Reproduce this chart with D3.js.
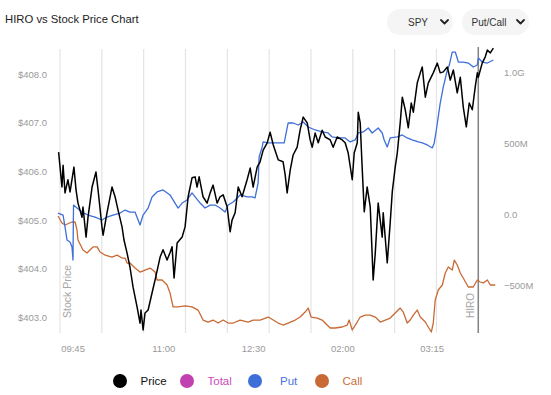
<!DOCTYPE html>
<html>
<head>
<meta charset="utf-8">
<script src="https://cdn.jsdelivr.net/npm/d3@7"></script>
<style>
  html, body { margin: 0; padding: 0; background: #fff; }
  svg { display: block; font-family: "Liberation Sans", Arial, Helvetica, sans-serif; }
</style>
</head>
<body>
<svg id="chart" width="551" height="395"></svg>
<script>
// ---------- DATA (t = minutes after 09:30 on the chart's x axis) ----------
const priceData = [
  [-1,406.40],[1.4,405.68],[2.2,406.13],[3.6,405.56],[5.7,405.83],[7.2,405.58],[10,406.09],[11.5,405.62],
  [12.9,405.35],[15.8,405.06],[16.5,405.27],[18.7,404.65],[20.1,405.06],[23,405.68],[25.8,405.99],[27.3,405.62],
  [30.1,404.86],[30.9,404.69],[33.7,405.15],[37.3,405.68],[39.5,405.48],[41.6,405.21],[44.5,404.86],[45.9,404.59],
  [48.1,404.32],[50.2,404.03],[52.4,403.62],[55.3,403.21],[57.4,402.88],[58.1,403.15],[59.6,402.74],[61,403.09],
  [63.2,403.15],[66,403.50],[68.2,403.77],[71.8,404.24],[73.9,404.39],[76.8,404.18],[78.9,404.33],[80.4,404.45],
  [81.8,403.81],[84,404.53],[87.6,404.65],[89.7,404.86],[91.9,405.48],[94.7,405.87],[96.9,405.89],[98.3,405.68],
  [99.8,405.89],[102.6,405.48],[105.5,405.35],[107.7,405.56],[109.8,405.72],[112.7,405.35],[114.8,405.48],[117,405.52],
  [119.9,405.27],[122,404.76],[123.4,405.00],[125.6,405.15],[127.8,405.68],[130.6,405.48],[134.2,405.83],[136.4,406.07],
  [138.5,405.68],[141.4,406.09],[143.5,406.20],[145.7,406.44],[148.6,406.59],[150.7,406.81],[152.9,406.55],[156.5,406.24],
  [160,406.20],[161.5,405.93],[162.9,405.56],[165.1,406.03],[167.2,406.34],[170.1,406.50],[172.2,406.85],[174.4,407.12],
  [177.3,407.00],[179.4,406.65],[180.9,406.50],[183,406.79],[185.2,406.59],[188,406.85],[190.2,406.71],[193.8,406.65],
  [195.9,406.50],[198.8,406.71],[202.4,406.65],[204.5,406.59],[206.7,406.38],[209.6,405.83],[211,406.38],[213.2,406.59],
  [213.9,407.22],[215.3,407.00],[216.7,406.09],[218.2,405.17],[220.3,405.68],[222.5,405.27],[224.6,403.77],[226.1,404.32],
  [228.2,405.35],[231.1,404.65],[231.8,405.15],[234.7,404.12],[236.8,404.94],[238.3,405.58],[240.4,406.09],[241.9,406.38],
  [244,407.00],[245.5,407.53],[247.6,407.27],[249.8,406.90],[251.9,407.41],[253.4,407.22],[256.2,407.82],[258.4,408.03],
  [259.8,408.15],[262,407.53],[264.1,407.82],[267.7,408.03],[270.6,408.23],[272.7,408.03],[274.9,408.05],[277.8,408.15],
  [279.9,407.88],[282.1,408.09],[284.9,407.62],[287.1,407.94],[289.2,407.33],[291.4,406.92],[293.5,407.41],[295.7,407.27],
  [297.8,407.74],[299.3,408.03],[300,407.94],[302.8,408.23],[305,408.36],[306.5,408.50],[308.6,408.44],[310.8,408.54]
];
// HIRO values in millions
const putData = [
  [-1.4,10],[2.2,-4],[3.6,-88],[5,-179],[7.2,-193],[8.6,-228],[9.3,-320],[9.7,66],[12.2,45],[15.8,17],
  [20.1,-4],[25.1,-18],[30.1,-39],[33.7,-18],[38,-4],[43.1,10],[46.7,31],[50.2,17],[53.8,17],[57.4,-74],
  [59.6,-4],[63.2,45],[66,123],[69.6,158],[73.9,172],[78.9,137],[82.5,80],[84.7,45],[87.6,80],[91.1,102],
  [94.7,151],[96.9,123],[100.5,80],[104,45],[107.7,66],[111.2,66],[114.8,45],[118.4,17],[120.6,66],[124.2,88],
  [127.8,123],[129.2,137],[134.2,123],[137.8,123],[139.9,116],[142.1,221],[142.8,403],[145,474],[145.7,509],[149.3,502],
  [152.9,502],[157.9,502],[160.8,502],[162.2,572],[163.6,642],[167.2,642],[170.8,628],[174.4,649],[178,614],[183,593],
  [188,579],[192.3,572],[195.2,544],[199.5,537],[204.5,537],[208.1,509],[211.7,523],[213.9,572],[217.5,579],[221.1,607],
  [223.9,572],[228.2,607],[231.1,572],[232.5,523],[234.7,474],[236.8,537],[241.9,544],[245.5,558],[249,537],[252.6,523],
  [256.9,509],[259.8,502],[263.4,488],[267,467],[268.4,502],[269.9,593],[272.7,782],[274.9,895],[277.8,1014],[279.2,1049],
  [281.3,1140],[283.5,1140],[285.7,1070],[289.2,1070],[292.8,1063],[296.4,1035],[299.3,1049],[300,1098],[302.8,1070],[306.5,1063],
  [310.8,1084]
];
const callData = [
  [-1.4,-11],[1.4,-60],[3.6,-74],[8.6,-53],[10.8,-53],[12.2,-109],[12.9,-179],[16.5,-249],[19.4,-270],[21.5,-249],
  [23.7,-228],[26.6,-228],[28.7,-263],[32.3,-285],[37.3,-299],[40.9,-285],[44.5,-306],[46.7,-306],[48.1,-341],[50.2,-341],
  [53.8,-376],[57.4,-404],[61,-390],[64.6,-376],[68.2,-404],[69.6,-460],[73.2,-460],[76.8,-495],[78.9,-551],[81.1,-649],
  [84.7,-649],[89.7,-642],[94.7,-649],[99,-671],[102.6,-741],[106.2,-755],[109.8,-741],[113.4,-762],[117,-741],[120.6,-762],
  [124.2,-762],[129.2,-741],[134.9,-755],[138.5,-741],[143.5,-741],[149.3,-720],[152.9,-741],[156.5,-762],[160,-776],[163.6,-762],
  [168.7,-741],[172.2,-720],[175.8,-685],[178,-657],[180.1,-720],[184.5,-727],[188,-741],[191.6,-776],[193.8,-797],[197.4,-797],
  [202.4,-790],[206,-776],[207.4,-741],[209.6,-811],[213.2,-755],[215.3,-720],[218.9,-706],[222.5,-706],[226.1,-720],[229.7,-755],
  [233.3,-741],[236.8,-727],[240.4,-692],[244,-657],[246.2,-685],[249,-762],[251.2,-741],[253.4,-706],[256.2,-671],[258.4,-720],
  [262,-755],[264.1,-790],[266.3,-825],[267.7,-762],[269.1,-600],[271.3,-530],[274.2,-495],[276.3,-411],[278.5,-369],[281.3,-390],
  [282.8,-320],[284.9,-355],[287.1,-411],[289.2,-446],[292.8,-509],[296.4,-509],[299.3,-460],[301.4,-474],[303.6,-481],[306.5,-460],
  [308.6,-495],[312.2,-495]
];
const xTickLabels = ["09:45", "11:00", "12:30", "02:00", "03:15"];
const xTickPos = [9, 74, 138.5, 202.5, 266.5];
const xGridPos = [0, 30, 60, 90, 120, 150, 180, 210, 240, 270, 300];
const hiroMarker = 300;
const priceTicks = [403, 404, 405, 406, 407, 408];
const hiroTicks = [-500, 0, 500, 1000];
const hiroTickLabels = ["\u2212500M", "0.0", "500M", "1.0G"];
const legendNames = ["Price", "Total", "Put", "Call"];
const legendColors = ["#000000", "#c241b0", "#3e6fd9", "#c76a36"];
const legendTextColors = ["#111111", "#c94cb8", "#4a74dc", "#c96d3a"];

// ---------- LAYOUT ----------
const svg = d3.select("#chart");
const plot = { left: 60, right: 497, top: 49, bottom: 333 };

const x = d3.scaleLinear().domain([0, 300]).range([60, 478.3]);
const yPrice = d3.scaleLinear().domain([403, 408]).range([317.3, 74.3]);
const yHiro = d3.scaleLinear().domain([-500, 1000]).range([285.7, 72]);

// Title
svg.append("text").attr("x", 5).attr("y", 23)
  .attr("font-size", 11.3).attr("fill", "#222")
  .text("HIRO vs Stock Price Chart");

// Dropdowns
const dropdowns = [{ label: "SPY", x0: 387, w: 66, tx: 418 }, { label: "Put/Call", x0: 462, w: 67, tx: 489 }];
dropdowns.forEach(d => {
  const g = svg.append("g");
  g.append("rect").attr("x", d.x0).attr("y", 9).attr("width", d.w).attr("height", 26)
    .attr("rx", 13).attr("fill", "#f5f5f5");
  g.append("text").attr("x", d.tx).attr("y", 25.5).attr("text-anchor", "middle")
    .attr("font-size", 10).attr("fill", "#333").text(d.label);
  const cx = d.x0 + d.w - 8.5;
  g.append("path").attr("d", `M${cx - 3.5},${20} L${cx},${23.5} L${cx + 3.5},${20}`)
    .attr("fill", "none").attr("stroke", "#222").attr("stroke-width", 1.8)
    .attr("stroke-linecap", "round").attr("stroke-linejoin", "round");
});

// Vertical grid lines
svg.append("g").selectAll("line").data(xGridPos).join("line")
  .attr("x1", d => x(d)).attr("x2", d => x(d))
  .attr("y1", plot.top).attr("y2", plot.bottom)
  .attr("stroke", "#e4e4e4").attr("stroke-width", 1.2);

// Left axis (price)
const leftAxis = svg.append("g").attr("transform", `translate(${plot.left},0)`)
  .call(d3.axisLeft(yPrice).tickValues(priceTicks).tickSize(0).tickPadding(13)
    .tickFormat(d => "$" + d3.format(".1f")(d)));
leftAxis.select(".domain").remove();
leftAxis.selectAll("text").attr("font-size", 9.5).attr("fill", "#9a9a9a")
  .attr("font-family", '"Liberation Sans", Arial, sans-serif');

// Right axis (HIRO)
const rightAxis = svg.append("g").attr("transform", `translate(${plot.right},0)`)
  .call(d3.axisRight(yHiro).tickValues(hiroTicks).tickSize(0).tickPadding(7)
    .tickFormat((d, i) => hiroTickLabels[i]));
rightAxis.select(".domain").remove();
rightAxis.selectAll("text").attr("font-size", 9.5).attr("fill", "#9a9a9a")
  .attr("font-family", '"Liberation Sans", Arial, sans-serif');

// Bottom axis (time)
const bottomAxis = svg.append("g").attr("transform", `translate(0,${plot.bottom})`)
  .call(d3.axisBottom(x).tickValues(xTickPos).tickSize(0).tickPadding(12)
    .tickFormat((d, i) => xTickLabels[i]));
bottomAxis.select(".domain").remove();
bottomAxis.selectAll("text").attr("font-size", 9.5).attr("fill", "#9a9a9a")
  .attr("font-family", '"Liberation Sans", Arial, sans-serif');

// HIRO marker line
svg.append("line").attr("x1", x(hiroMarker)).attr("x2", x(hiroMarker))
  .attr("y1", plot.top - 2).attr("y2", plot.bottom)
  .attr("stroke", "#858585").attr("stroke-width", 1.5);

// Rotated labels
svg.append("text").attr("transform", `translate(70.5,318) rotate(-90)`)
  .attr("font-size", 10.5).attr("fill", "#a5a5a5").text("Stock Price");
svg.append("text").attr("transform", `translate(474,318) rotate(-90)`)
  .attr("font-size", 10).attr("fill", "#a5a5a5").text("HIRO");

// Lines
const lineHiro = d3.line().x(d => x(d[0])).y(d => yHiro(d[1]));
const linePrice = d3.line().x(d => x(d[0])).y(d => yPrice(d[1]));

svg.append("path").datum(callData).attr("d", lineHiro)
  .attr("fill", "none").attr("stroke", legendColors[3]).attr("stroke-width", 1.3)
  .attr("stroke-linejoin", "round");
svg.append("path").datum(putData).attr("d", lineHiro)
  .attr("fill", "none").attr("stroke", legendColors[2]).attr("stroke-width", 1.3)
  .attr("stroke-linejoin", "round");
svg.append("path").datum(priceData).attr("d", linePrice)
  .attr("fill", "none").attr("stroke", legendColors[0]).attr("stroke-width", 1.5)
  .attr("stroke-linejoin", "round");

// Legend
const legendX = [120, 187, 255, 322];
const lg = svg.append("g");
legendNames.forEach((name, i) => {
  lg.append("circle").attr("cx", legendX[i]).attr("cy", 381).attr("r", 7)
    .attr("fill", legendColors[i]);
  lg.append("text").attr("x", legendX[i] + (i === 2 ? 25 : 20.5))
    .attr("y", 385).attr("font-size", 11.5).attr("fill", legendTextColors[i]).text(name);
});
</script>
</body>
</html>
